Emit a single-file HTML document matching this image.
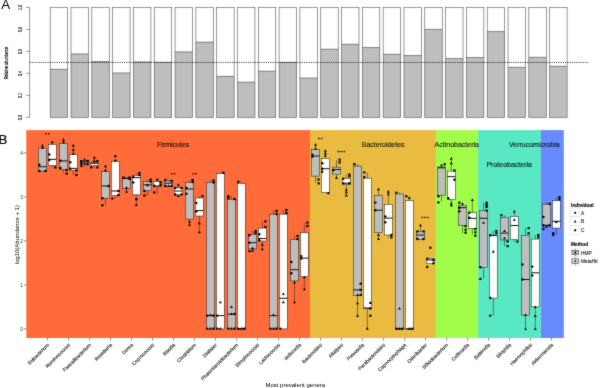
<!DOCTYPE html>
<html><head><meta charset="utf-8"><title>Figure</title>
<style>
html,body{margin:0;padding:0;background:#fff;}
body{width:600px;height:388px;overflow:hidden;}
svg{display:block;font-family:"Liberation Sans", sans-serif;}
</style></head>
<body>
<svg width="600" height="388" viewBox="0 0 600 388">
<defs><filter id="bl" filterUnits="userSpaceOnUse" x="-6" y="-6" width="612" height="400" color-interpolation-filters="sRGB"><feConvolveMatrix order="3" kernelMatrix="0.5 1 0.5 1 12 1 0.5 1 0.5" edgeMode="duplicate" preserveAlpha="true"/></filter></defs>
<g filter="url(#bl)">
<rect x="-8" y="-8" width="616" height="404" fill="#fff"/>
<text x="1.2" y="9.45" font-size="13.3" fill="#000">A</text>
<line x1="29.6" y1="7.4" x2="29.6" y2="117.4" stroke="#555" stroke-width="0.6"/>
<line x1="26" y1="117.40" x2="29.6" y2="117.40" stroke="#555" stroke-width="0.6"/>
<text transform="translate(21.7,117.40) rotate(-90) scale(0.6,1)" text-anchor="middle" font-size="6" fill="#222" stroke="#222" stroke-width="0.15">0.0</text>
<line x1="26" y1="95.40" x2="29.6" y2="95.40" stroke="#555" stroke-width="0.6"/>
<text transform="translate(21.7,95.40) rotate(-90) scale(0.6,1)" text-anchor="middle" font-size="6" fill="#222" stroke="#222" stroke-width="0.15">0.2</text>
<line x1="26" y1="73.40" x2="29.6" y2="73.40" stroke="#555" stroke-width="0.6"/>
<text transform="translate(21.7,73.40) rotate(-90) scale(0.6,1)" text-anchor="middle" font-size="6" fill="#222" stroke="#222" stroke-width="0.15">0.4</text>
<line x1="26" y1="51.40" x2="29.6" y2="51.40" stroke="#555" stroke-width="0.6"/>
<text transform="translate(21.7,51.40) rotate(-90) scale(0.6,1)" text-anchor="middle" font-size="6" fill="#222" stroke="#222" stroke-width="0.15">0.6</text>
<line x1="26" y1="29.40" x2="29.6" y2="29.40" stroke="#555" stroke-width="0.6"/>
<text transform="translate(21.7,29.40) rotate(-90) scale(0.6,1)" text-anchor="middle" font-size="6" fill="#222" stroke="#222" stroke-width="0.15">0.8</text>
<line x1="26" y1="7.40" x2="29.6" y2="7.40" stroke="#555" stroke-width="0.6"/>
<text transform="translate(21.7,7.40) rotate(-90) scale(0.6,1)" text-anchor="middle" font-size="6" fill="#222" stroke="#222" stroke-width="0.15">1.0</text>
<text transform="translate(7.7,63.0) rotate(-90) scale(0.70,1)" text-anchor="middle" font-size="5.2" fill="#000" stroke="#000" stroke-width="0.18">Relative abundance</text>
<rect x="50.20" y="7.4" width="17.45" height="110.00" fill="#fff"/>
<rect x="50.20" y="69.33" width="17.45" height="48.07" fill="#bebebe"/>
<line x1="50.20" y1="69.33" x2="67.65" y2="69.33" stroke="#444" stroke-width="0.6"/>
<rect x="50.20" y="7.4" width="17.45" height="110.00" fill="none" stroke="#555" stroke-width="0.6"/>
<rect x="71.01" y="7.4" width="17.45" height="110.00" fill="#fff"/>
<rect x="71.01" y="53.93" width="17.45" height="63.47" fill="#bebebe"/>
<line x1="71.01" y1="53.93" x2="88.46" y2="53.93" stroke="#444" stroke-width="0.6"/>
<rect x="71.01" y="7.4" width="17.45" height="110.00" fill="none" stroke="#555" stroke-width="0.6"/>
<rect x="91.82" y="7.4" width="17.45" height="110.00" fill="#fff"/>
<rect x="91.82" y="61.63" width="17.45" height="55.77" fill="#bebebe"/>
<line x1="91.82" y1="61.63" x2="109.27" y2="61.63" stroke="#444" stroke-width="0.6"/>
<rect x="91.82" y="7.4" width="17.45" height="110.00" fill="none" stroke="#555" stroke-width="0.6"/>
<rect x="112.63" y="7.4" width="17.45" height="110.00" fill="#fff"/>
<rect x="112.63" y="72.96" width="17.45" height="44.44" fill="#bebebe"/>
<line x1="112.63" y1="72.96" x2="130.08" y2="72.96" stroke="#444" stroke-width="0.6"/>
<rect x="112.63" y="7.4" width="17.45" height="110.00" fill="none" stroke="#555" stroke-width="0.6"/>
<rect x="133.44" y="7.4" width="17.45" height="110.00" fill="#fff"/>
<rect x="133.44" y="61.96" width="17.45" height="55.44" fill="#bebebe"/>
<line x1="133.44" y1="61.96" x2="150.89" y2="61.96" stroke="#444" stroke-width="0.6"/>
<rect x="133.44" y="7.4" width="17.45" height="110.00" fill="none" stroke="#555" stroke-width="0.6"/>
<rect x="154.25" y="7.4" width="17.45" height="110.00" fill="#fff"/>
<rect x="154.25" y="62.40" width="17.45" height="55.00" fill="#bebebe"/>
<line x1="154.25" y1="62.40" x2="171.70" y2="62.40" stroke="#444" stroke-width="0.6"/>
<rect x="154.25" y="7.4" width="17.45" height="110.00" fill="none" stroke="#555" stroke-width="0.6"/>
<rect x="175.06" y="7.4" width="17.45" height="110.00" fill="#fff"/>
<rect x="175.06" y="51.95" width="17.45" height="65.45" fill="#bebebe"/>
<line x1="175.06" y1="51.95" x2="192.51" y2="51.95" stroke="#444" stroke-width="0.6"/>
<rect x="175.06" y="7.4" width="17.45" height="110.00" fill="none" stroke="#555" stroke-width="0.6"/>
<rect x="195.87" y="7.4" width="17.45" height="110.00" fill="#fff"/>
<rect x="195.87" y="42.16" width="17.45" height="75.24" fill="#bebebe"/>
<line x1="195.87" y1="42.16" x2="213.32" y2="42.16" stroke="#444" stroke-width="0.6"/>
<rect x="195.87" y="7.4" width="17.45" height="110.00" fill="none" stroke="#555" stroke-width="0.6"/>
<rect x="216.68" y="7.4" width="17.45" height="110.00" fill="#fff"/>
<rect x="216.68" y="76.37" width="17.45" height="41.03" fill="#bebebe"/>
<line x1="216.68" y1="76.37" x2="234.13" y2="76.37" stroke="#444" stroke-width="0.6"/>
<rect x="216.68" y="7.4" width="17.45" height="110.00" fill="none" stroke="#555" stroke-width="0.6"/>
<rect x="237.49" y="7.4" width="17.45" height="110.00" fill="#fff"/>
<rect x="237.49" y="82.20" width="17.45" height="35.20" fill="#bebebe"/>
<line x1="237.49" y1="82.20" x2="254.94" y2="82.20" stroke="#444" stroke-width="0.6"/>
<rect x="237.49" y="7.4" width="17.45" height="110.00" fill="none" stroke="#555" stroke-width="0.6"/>
<rect x="258.30" y="7.4" width="17.45" height="110.00" fill="#fff"/>
<rect x="258.30" y="71.20" width="17.45" height="46.20" fill="#bebebe"/>
<line x1="258.30" y1="71.20" x2="275.75" y2="71.20" stroke="#444" stroke-width="0.6"/>
<rect x="258.30" y="7.4" width="17.45" height="110.00" fill="none" stroke="#555" stroke-width="0.6"/>
<rect x="279.11" y="7.4" width="17.45" height="110.00" fill="#fff"/>
<rect x="279.11" y="62.40" width="17.45" height="55.00" fill="#bebebe"/>
<line x1="279.11" y1="62.40" x2="296.56" y2="62.40" stroke="#444" stroke-width="0.6"/>
<rect x="279.11" y="7.4" width="17.45" height="110.00" fill="none" stroke="#555" stroke-width="0.6"/>
<rect x="299.92" y="7.4" width="17.45" height="110.00" fill="#fff"/>
<rect x="299.92" y="78.02" width="17.45" height="39.38" fill="#bebebe"/>
<line x1="299.92" y1="78.02" x2="317.37" y2="78.02" stroke="#444" stroke-width="0.6"/>
<rect x="299.92" y="7.4" width="17.45" height="110.00" fill="none" stroke="#555" stroke-width="0.6"/>
<rect x="320.73" y="7.4" width="17.45" height="110.00" fill="#fff"/>
<rect x="320.73" y="49.20" width="17.45" height="68.20" fill="#bebebe"/>
<line x1="320.73" y1="49.20" x2="338.18" y2="49.20" stroke="#444" stroke-width="0.6"/>
<rect x="320.73" y="7.4" width="17.45" height="110.00" fill="none" stroke="#555" stroke-width="0.6"/>
<rect x="341.54" y="7.4" width="17.45" height="110.00" fill="#fff"/>
<rect x="341.54" y="44.25" width="17.45" height="73.15" fill="#bebebe"/>
<line x1="341.54" y1="44.25" x2="358.99" y2="44.25" stroke="#444" stroke-width="0.6"/>
<rect x="341.54" y="7.4" width="17.45" height="110.00" fill="none" stroke="#555" stroke-width="0.6"/>
<rect x="362.35" y="7.4" width="17.45" height="110.00" fill="#fff"/>
<rect x="362.35" y="47.55" width="17.45" height="69.85" fill="#bebebe"/>
<line x1="362.35" y1="47.55" x2="379.80" y2="47.55" stroke="#444" stroke-width="0.6"/>
<rect x="362.35" y="7.4" width="17.45" height="110.00" fill="none" stroke="#555" stroke-width="0.6"/>
<rect x="383.16" y="7.4" width="17.45" height="110.00" fill="#fff"/>
<rect x="383.16" y="54.26" width="17.45" height="63.14" fill="#bebebe"/>
<line x1="383.16" y1="54.26" x2="400.61" y2="54.26" stroke="#444" stroke-width="0.6"/>
<rect x="383.16" y="7.4" width="17.45" height="110.00" fill="none" stroke="#555" stroke-width="0.6"/>
<rect x="403.97" y="7.4" width="17.45" height="110.00" fill="#fff"/>
<rect x="403.97" y="55.58" width="17.45" height="61.82" fill="#bebebe"/>
<line x1="403.97" y1="55.58" x2="421.42" y2="55.58" stroke="#444" stroke-width="0.6"/>
<rect x="403.97" y="7.4" width="17.45" height="110.00" fill="none" stroke="#555" stroke-width="0.6"/>
<rect x="424.78" y="7.4" width="17.45" height="110.00" fill="#fff"/>
<rect x="424.78" y="29.40" width="17.45" height="88.00" fill="#bebebe"/>
<line x1="424.78" y1="29.40" x2="442.23" y2="29.40" stroke="#444" stroke-width="0.6"/>
<rect x="424.78" y="7.4" width="17.45" height="110.00" fill="none" stroke="#555" stroke-width="0.6"/>
<rect x="445.59" y="7.4" width="17.45" height="110.00" fill="#fff"/>
<rect x="445.59" y="58.55" width="17.45" height="58.85" fill="#bebebe"/>
<line x1="445.59" y1="58.55" x2="463.04" y2="58.55" stroke="#444" stroke-width="0.6"/>
<rect x="445.59" y="7.4" width="17.45" height="110.00" fill="none" stroke="#555" stroke-width="0.6"/>
<rect x="466.40" y="7.4" width="17.45" height="110.00" fill="#fff"/>
<rect x="466.40" y="57.56" width="17.45" height="59.84" fill="#bebebe"/>
<line x1="466.40" y1="57.56" x2="483.85" y2="57.56" stroke="#444" stroke-width="0.6"/>
<rect x="466.40" y="7.4" width="17.45" height="110.00" fill="none" stroke="#555" stroke-width="0.6"/>
<rect x="487.21" y="7.4" width="17.45" height="110.00" fill="#fff"/>
<rect x="487.21" y="31.60" width="17.45" height="85.80" fill="#bebebe"/>
<line x1="487.21" y1="31.60" x2="504.66" y2="31.60" stroke="#444" stroke-width="0.6"/>
<rect x="487.21" y="7.4" width="17.45" height="110.00" fill="none" stroke="#555" stroke-width="0.6"/>
<rect x="508.02" y="7.4" width="17.45" height="110.00" fill="#fff"/>
<rect x="508.02" y="67.35" width="17.45" height="50.05" fill="#bebebe"/>
<line x1="508.02" y1="67.35" x2="525.47" y2="67.35" stroke="#444" stroke-width="0.6"/>
<rect x="508.02" y="7.4" width="17.45" height="110.00" fill="none" stroke="#555" stroke-width="0.6"/>
<rect x="528.83" y="7.4" width="17.45" height="110.00" fill="#fff"/>
<rect x="528.83" y="57.34" width="17.45" height="60.06" fill="#bebebe"/>
<line x1="528.83" y1="57.34" x2="546.28" y2="57.34" stroke="#444" stroke-width="0.6"/>
<rect x="528.83" y="7.4" width="17.45" height="110.00" fill="none" stroke="#555" stroke-width="0.6"/>
<rect x="549.64" y="7.4" width="17.45" height="110.00" fill="#fff"/>
<rect x="549.64" y="66.25" width="17.45" height="51.15" fill="#bebebe"/>
<line x1="549.64" y1="66.25" x2="567.09" y2="66.25" stroke="#444" stroke-width="0.6"/>
<rect x="549.64" y="7.4" width="17.45" height="110.00" fill="none" stroke="#555" stroke-width="0.6"/>
<line x1="29.6" y1="62.45" x2="588.3" y2="62.45" stroke="#000" stroke-width="0.8" stroke-dasharray="1.1,1.15"/>
<text x="-1.6" y="143.9" font-size="13.3" fill="#000" stroke="#000" stroke-width="0.2">B</text>
<rect x="26.3" y="130.1" width="283.70" height="207.90" fill="#ff6c39"/>
<rect x="310.0" y="130.1" width="125.90" height="207.90" fill="#e9bc41"/>
<rect x="435.9" y="130.1" width="42.20" height="207.90" fill="#a2fd4a"/>
<rect x="478.1" y="130.1" width="62.70" height="207.90" fill="#58e8c3"/>
<rect x="540.8" y="130.1" width="23.00" height="207.90" fill="#678aff"/>
<text x="173.2" y="146.8" text-anchor="middle" font-size="7" fill="rgba(0,0,0,0.88)" stroke="rgba(0,0,0,0.88)" stroke-width="0.12">Firmicutes</text>
<text x="383.2" y="146.9" text-anchor="middle" font-size="7" fill="rgba(0,0,0,0.88)" stroke="rgba(0,0,0,0.88)" stroke-width="0.12">Bacteroidetes</text>
<text x="456.8" y="146.8" text-anchor="middle" font-size="7" fill="rgba(0,0,0,0.88)" stroke="rgba(0,0,0,0.88)" stroke-width="0.12">Actinobacteria</text>
<text x="534.3" y="147.0" text-anchor="middle" font-size="7" fill="rgba(0,0,0,0.88)" stroke="rgba(0,0,0,0.88)" stroke-width="0.12">Verrucomicrobia</text>
<text x="509.2" y="166.5" text-anchor="middle" font-size="7" fill="rgba(0,0,0,0.88)" stroke="rgba(0,0,0,0.88)" stroke-width="0.12">Proteobacteria</text>
<line x1="23.8" y1="328.90" x2="26.3" y2="328.90" stroke="#333" stroke-width="0.6"/>
<text x="23.0" y="330.60" text-anchor="end" font-size="4.8" fill="#333">0</text>
<line x1="23.8" y1="284.90" x2="26.3" y2="284.90" stroke="#333" stroke-width="0.6"/>
<text x="23.0" y="286.60" text-anchor="end" font-size="4.8" fill="#333">1</text>
<line x1="23.8" y1="240.90" x2="26.3" y2="240.90" stroke="#333" stroke-width="0.6"/>
<text x="23.0" y="242.60" text-anchor="end" font-size="4.8" fill="#333">2</text>
<line x1="23.8" y1="196.90" x2="26.3" y2="196.90" stroke="#333" stroke-width="0.6"/>
<text x="23.0" y="198.60" text-anchor="end" font-size="4.8" fill="#333">3</text>
<line x1="23.8" y1="152.90" x2="26.3" y2="152.90" stroke="#333" stroke-width="0.6"/>
<text x="23.0" y="154.60" text-anchor="end" font-size="4.8" fill="#333">4</text>
<text transform="translate(18.5,234.7) rotate(-90)" text-anchor="middle" font-size="6" fill="#000">log10(Abundance + 1)</text>
<line x1="47.60" y1="338.0" x2="47.60" y2="340.5" stroke="#333" stroke-width="0.6"/>
<text transform="translate(49.40,345.3) rotate(-45)" text-anchor="end" font-size="4.95" fill="#1a1a1a" stroke="#1a1a1a" stroke-width="0.12">Eubacterium</text>
<line x1="68.60" y1="338.0" x2="68.60" y2="340.5" stroke="#333" stroke-width="0.6"/>
<text transform="translate(70.40,345.3) rotate(-45)" text-anchor="end" font-size="4.95" fill="#1a1a1a" stroke="#1a1a1a" stroke-width="0.12">Ruminococcus</text>
<line x1="89.60" y1="338.0" x2="89.60" y2="340.5" stroke="#333" stroke-width="0.6"/>
<text transform="translate(91.40,345.3) rotate(-45)" text-anchor="end" font-size="4.95" fill="#1a1a1a" stroke="#1a1a1a" stroke-width="0.12">Faecalibacterium</text>
<line x1="110.60" y1="338.0" x2="110.60" y2="340.5" stroke="#333" stroke-width="0.6"/>
<text transform="translate(112.40,345.3) rotate(-45)" text-anchor="end" font-size="4.95" fill="#1a1a1a" stroke="#1a1a1a" stroke-width="0.12">Roseburia</text>
<line x1="131.60" y1="338.0" x2="131.60" y2="340.5" stroke="#333" stroke-width="0.6"/>
<text transform="translate(133.40,345.3) rotate(-45)" text-anchor="end" font-size="4.95" fill="#1a1a1a" stroke="#1a1a1a" stroke-width="0.12">Dorea</text>
<line x1="152.60" y1="338.0" x2="152.60" y2="340.5" stroke="#333" stroke-width="0.6"/>
<text transform="translate(154.40,345.3) rotate(-45)" text-anchor="end" font-size="4.95" fill="#1a1a1a" stroke="#1a1a1a" stroke-width="0.12">Coprococcus</text>
<line x1="173.60" y1="338.0" x2="173.60" y2="340.5" stroke="#333" stroke-width="0.6"/>
<text transform="translate(175.40,345.3) rotate(-45)" text-anchor="end" font-size="4.95" fill="#1a1a1a" stroke="#1a1a1a" stroke-width="0.12">Blautia</text>
<line x1="194.60" y1="338.0" x2="194.60" y2="340.5" stroke="#333" stroke-width="0.6"/>
<text transform="translate(196.40,345.3) rotate(-45)" text-anchor="end" font-size="4.95" fill="#1a1a1a" stroke="#1a1a1a" stroke-width="0.12">Clostridium</text>
<line x1="215.60" y1="338.0" x2="215.60" y2="340.5" stroke="#333" stroke-width="0.6"/>
<text transform="translate(217.40,345.3) rotate(-45)" text-anchor="end" font-size="4.95" fill="#1a1a1a" stroke="#1a1a1a" stroke-width="0.12">Dialister</text>
<line x1="236.60" y1="338.0" x2="236.60" y2="340.5" stroke="#333" stroke-width="0.6"/>
<text transform="translate(238.40,345.3) rotate(-45)" text-anchor="end" font-size="4.95" fill="#1a1a1a" stroke="#1a1a1a" stroke-width="0.12">Phascolarctobacterium</text>
<line x1="257.60" y1="338.0" x2="257.60" y2="340.5" stroke="#333" stroke-width="0.6"/>
<text transform="translate(259.40,345.3) rotate(-45)" text-anchor="end" font-size="4.95" fill="#1a1a1a" stroke="#1a1a1a" stroke-width="0.12">Streptococcus</text>
<line x1="278.60" y1="338.0" x2="278.60" y2="340.5" stroke="#333" stroke-width="0.6"/>
<text transform="translate(280.40,345.3) rotate(-45)" text-anchor="end" font-size="4.95" fill="#1a1a1a" stroke="#1a1a1a" stroke-width="0.12">Lactococcus</text>
<line x1="299.60" y1="338.0" x2="299.60" y2="340.5" stroke="#333" stroke-width="0.6"/>
<text transform="translate(301.40,345.3) rotate(-45)" text-anchor="end" font-size="4.95" fill="#1a1a1a" stroke="#1a1a1a" stroke-width="0.12">Veillonella</text>
<line x1="320.60" y1="338.0" x2="320.60" y2="340.5" stroke="#333" stroke-width="0.6"/>
<text transform="translate(322.40,345.3) rotate(-45)" text-anchor="end" font-size="4.95" fill="#1a1a1a" stroke="#1a1a1a" stroke-width="0.12">Bacteroides</text>
<line x1="341.60" y1="338.0" x2="341.60" y2="340.5" stroke="#333" stroke-width="0.6"/>
<text transform="translate(343.40,345.3) rotate(-45)" text-anchor="end" font-size="4.95" fill="#1a1a1a" stroke="#1a1a1a" stroke-width="0.12">Alistipes</text>
<line x1="362.60" y1="338.0" x2="362.60" y2="340.5" stroke="#333" stroke-width="0.6"/>
<text transform="translate(364.40,345.3) rotate(-45)" text-anchor="end" font-size="4.95" fill="#1a1a1a" stroke="#1a1a1a" stroke-width="0.12">Prevotella</text>
<line x1="383.60" y1="338.0" x2="383.60" y2="340.5" stroke="#333" stroke-width="0.6"/>
<text transform="translate(385.40,345.3) rotate(-45)" text-anchor="end" font-size="4.95" fill="#1a1a1a" stroke="#1a1a1a" stroke-width="0.12">Parabacteroides</text>
<line x1="404.60" y1="338.0" x2="404.60" y2="340.5" stroke="#333" stroke-width="0.6"/>
<text transform="translate(406.40,345.3) rotate(-45)" text-anchor="end" font-size="4.95" fill="#1a1a1a" stroke="#1a1a1a" stroke-width="0.12">Capnocytophaga</text>
<line x1="425.60" y1="338.0" x2="425.60" y2="340.5" stroke="#333" stroke-width="0.6"/>
<text transform="translate(427.40,345.3) rotate(-45)" text-anchor="end" font-size="4.95" fill="#1a1a1a" stroke="#1a1a1a" stroke-width="0.12">Odoribacter</text>
<line x1="446.60" y1="338.0" x2="446.60" y2="340.5" stroke="#333" stroke-width="0.6"/>
<text transform="translate(448.40,345.3) rotate(-45)" text-anchor="end" font-size="4.95" fill="#1a1a1a" stroke="#1a1a1a" stroke-width="0.12">Bifidobacterium</text>
<line x1="467.60" y1="338.0" x2="467.60" y2="340.5" stroke="#333" stroke-width="0.6"/>
<text transform="translate(469.40,345.3) rotate(-45)" text-anchor="end" font-size="4.95" fill="#1a1a1a" stroke="#1a1a1a" stroke-width="0.12">Collinsella</text>
<line x1="488.60" y1="338.0" x2="488.60" y2="340.5" stroke="#333" stroke-width="0.6"/>
<text transform="translate(490.40,345.3) rotate(-45)" text-anchor="end" font-size="4.95" fill="#1a1a1a" stroke="#1a1a1a" stroke-width="0.12">Sutterella</text>
<line x1="509.60" y1="338.0" x2="509.60" y2="340.5" stroke="#333" stroke-width="0.6"/>
<text transform="translate(511.40,345.3) rotate(-45)" text-anchor="end" font-size="4.95" fill="#1a1a1a" stroke="#1a1a1a" stroke-width="0.12">Bilophila</text>
<line x1="530.60" y1="338.0" x2="530.60" y2="340.5" stroke="#333" stroke-width="0.6"/>
<text transform="translate(532.40,345.3) rotate(-45)" text-anchor="end" font-size="4.95" fill="#1a1a1a" stroke="#1a1a1a" stroke-width="0.12">Haemophilus</text>
<line x1="551.60" y1="338.0" x2="551.60" y2="340.5" stroke="#333" stroke-width="0.6"/>
<text transform="translate(553.40,345.3) rotate(-45)" text-anchor="end" font-size="4.95" fill="#1a1a1a" stroke="#1a1a1a" stroke-width="0.12">Akkermansia</text>
<text x="295.3" y="387.0" text-anchor="middle" font-size="6" fill="#000">Most prevalent genera</text>
<line x1="42.50" y1="145.50" x2="42.50" y2="148.00" stroke="#2a2a2a" stroke-width="0.55"/><rect x="38.50" y="148.00" width="8.00" height="23.00" fill="#bebebe" stroke="#2a2a2a" stroke-width="0.55"/><line x1="38.50" y1="166.70" x2="46.50" y2="166.70" stroke="#111" stroke-width="1.0"/><path d="M42.50,143.90L43.95,146.45L41.05,146.45Z" fill="#000"/><path d="M42.50,146.40L43.95,148.95L41.05,148.95Z" fill="#000"/><circle cx="39.40" cy="164.80" r="1.20" fill="#000"/><circle cx="39.40" cy="171.00" r="1.20" fill="#000"/><rect x="44.50" y="169.90" width="2.20" height="2.20" fill="#000"/>
<line x1="52.33" y1="142.20" x2="52.33" y2="144.40" stroke="#2a2a2a" stroke-width="0.55"/><line x1="52.33" y1="165.40" x2="52.33" y2="167.40" stroke="#2a2a2a" stroke-width="0.55"/><rect x="48.35" y="144.40" width="7.95" height="21.00" fill="#ffffff" stroke="#2a2a2a" stroke-width="0.55"/><line x1="48.35" y1="159.40" x2="56.30" y2="159.40" stroke="#111" stroke-width="1.0"/><path d="M52.33,140.60L53.78,143.15L50.88,143.15Z" fill="#000"/><circle cx="49.25" cy="154.50" r="1.20" fill="#000"/><circle cx="49.25" cy="160.00" r="1.20" fill="#000"/><rect x="54.30" y="166.30" width="2.20" height="2.20" fill="#000"/>
<line x1="63.50" y1="139.70" x2="63.50" y2="143.50" stroke="#2a2a2a" stroke-width="0.55"/><line x1="63.50" y1="169.70" x2="63.50" y2="172.50" stroke="#2a2a2a" stroke-width="0.55"/><rect x="59.50" y="143.50" width="8.00" height="26.20" fill="#bebebe" stroke="#2a2a2a" stroke-width="0.55"/><line x1="59.50" y1="160.90" x2="67.50" y2="160.90" stroke="#111" stroke-width="1.0"/><path d="M63.50,138.10L64.95,140.65L62.05,140.65Z" fill="#000"/><path d="M63.50,140.60L64.95,143.15L62.05,143.15Z" fill="#000"/><circle cx="60.40" cy="160.70" r="1.20" fill="#000"/><circle cx="60.40" cy="168.00" r="1.20" fill="#000"/><rect x="65.50" y="168.90" width="2.20" height="2.20" fill="#000"/><rect x="65.50" y="172.50" width="2.20" height="2.20" fill="#000"/>
<line x1="73.32" y1="145.50" x2="73.32" y2="154.50" stroke="#2a2a2a" stroke-width="0.55"/><line x1="73.32" y1="170.20" x2="73.32" y2="175.00" stroke="#2a2a2a" stroke-width="0.55"/><rect x="69.35" y="154.50" width="7.95" height="15.70" fill="#ffffff" stroke="#2a2a2a" stroke-width="0.55"/><line x1="69.35" y1="168.40" x2="77.30" y2="168.40" stroke="#111" stroke-width="1.0"/><path d="M73.32,143.90L74.77,146.45L71.87,146.45Z" fill="#000"/><path d="M73.32,148.40L74.77,150.95L71.87,150.95Z" fill="#000"/><path d="M73.32,152.20L74.77,154.75L71.87,154.75Z" fill="#000"/><circle cx="70.25" cy="162.20" r="1.20" fill="#000"/><circle cx="70.25" cy="168.70" r="1.20" fill="#000"/><rect x="75.30" y="169.50" width="2.20" height="2.20" fill="#000"/><rect x="75.30" y="173.90" width="2.20" height="2.20" fill="#000"/>
<line x1="84.50" y1="158.50" x2="84.50" y2="160.30" stroke="#2a2a2a" stroke-width="0.55"/><line x1="84.50" y1="164.40" x2="84.50" y2="166.50" stroke="#2a2a2a" stroke-width="0.55"/><rect x="80.50" y="160.30" width="8.00" height="4.10" fill="#bebebe" stroke="#2a2a2a" stroke-width="0.55"/><line x1="80.50" y1="162.00" x2="88.50" y2="162.00" stroke="#111" stroke-width="1.0"/><circle cx="81.40" cy="161.20" r="1.20" fill="#000"/><circle cx="81.40" cy="166.10" r="1.20" fill="#000"/><path d="M84.50,158.30L85.95,160.85L83.05,160.85Z" fill="#000"/><path d="M84.50,161.70L85.95,164.25L83.05,164.25Z" fill="#000"/><rect x="86.50" y="159.90" width="2.20" height="2.20" fill="#000"/><rect x="86.50" y="163.10" width="2.20" height="2.20" fill="#000"/><circle cx="81.40" cy="163.50" r="1.20" fill="#000"/>
<line x1="94.32" y1="157.70" x2="94.32" y2="162.90" stroke="#2a2a2a" stroke-width="0.55"/><line x1="94.32" y1="165.50" x2="94.32" y2="167.80" stroke="#2a2a2a" stroke-width="0.55"/><rect x="90.35" y="162.90" width="7.95" height="2.60" fill="#ffffff" stroke="#2a2a2a" stroke-width="0.55"/><line x1="90.35" y1="163.30" x2="98.30" y2="163.30" stroke="#111" stroke-width="1.0"/><path d="M94.32,156.10L95.77,158.65L92.87,158.65Z" fill="#000"/><path d="M94.32,159.40L95.77,161.95L92.87,161.95Z" fill="#000"/><rect x="96.30" y="159.90" width="2.20" height="2.20" fill="#000"/><circle cx="91.25" cy="167.40" r="1.20" fill="#000"/><rect x="96.30" y="166.30" width="2.20" height="2.20" fill="#000"/>
<line x1="105.50" y1="166.20" x2="105.50" y2="171.40" stroke="#2a2a2a" stroke-width="0.55"/><line x1="105.50" y1="198.20" x2="105.50" y2="205.30" stroke="#2a2a2a" stroke-width="0.55"/><rect x="101.50" y="171.40" width="8.00" height="26.80" fill="#bebebe" stroke="#2a2a2a" stroke-width="0.55"/><line x1="101.50" y1="186.00" x2="109.50" y2="186.00" stroke="#111" stroke-width="1.0"/><path d="M105.50,164.60L106.95,167.15L104.05,167.15Z" fill="#000"/><path d="M105.50,168.90L106.95,171.45L104.05,171.45Z" fill="#000"/><rect x="107.50" y="184.90" width="2.20" height="2.20" fill="#000"/><circle cx="102.40" cy="198.20" r="1.20" fill="#000"/><circle cx="102.40" cy="205.30" r="1.20" fill="#000"/>
<line x1="115.32" y1="195.60" x2="115.32" y2="198.60" stroke="#2a2a2a" stroke-width="0.55"/><rect x="111.35" y="161.40" width="7.95" height="34.20" fill="#ffffff" stroke="#2a2a2a" stroke-width="0.55"/><line x1="111.35" y1="191.00" x2="119.30" y2="191.00" stroke="#111" stroke-width="1.0"/><circle cx="115.32" cy="156.20" r="1.20" fill="#000"/><circle cx="115.32" cy="160.60" r="1.20" fill="#000"/><rect x="117.30" y="189.90" width="2.20" height="2.20" fill="#000"/><rect x="117.30" y="193.90" width="2.20" height="2.20" fill="#000"/><circle cx="112.25" cy="198.60" r="1.20" fill="#000"/>
<line x1="126.50" y1="188.20" x2="126.50" y2="192.00" stroke="#2a2a2a" stroke-width="0.55"/><rect x="122.50" y="177.80" width="8.00" height="10.40" fill="#bebebe" stroke="#2a2a2a" stroke-width="0.55"/><line x1="122.50" y1="178.60" x2="130.50" y2="178.60" stroke="#111" stroke-width="1.0"/><circle cx="123.40" cy="177.50" r="1.20" fill="#000"/><rect x="128.50" y="176.40" width="2.20" height="2.20" fill="#000"/><rect x="128.50" y="177.90" width="2.20" height="2.20" fill="#000"/><path d="M126.50,186.20L127.95,188.75L125.05,188.75Z" fill="#000"/><path d="M126.50,190.10L127.95,192.65L125.05,192.65Z" fill="#000"/>
<line x1="136.32" y1="172.90" x2="136.32" y2="175.50" stroke="#2a2a2a" stroke-width="0.55"/><line x1="136.32" y1="194.80" x2="136.32" y2="205.00" stroke="#2a2a2a" stroke-width="0.55"/><rect x="132.35" y="175.50" width="7.95" height="19.30" fill="#ffffff" stroke="#2a2a2a" stroke-width="0.55"/><line x1="132.35" y1="177.60" x2="140.30" y2="177.60" stroke="#111" stroke-width="1.0"/><rect x="138.30" y="171.80" width="2.20" height="2.20" fill="#000"/><rect x="138.30" y="173.80" width="2.20" height="2.20" fill="#000"/><circle cx="133.25" cy="177.00" r="1.20" fill="#000"/><circle cx="133.25" cy="182.50" r="1.20" fill="#000"/><circle cx="136.32" cy="199.20" r="1.20" fill="#000"/><path d="M136.32,203.40L137.77,205.95L134.88,205.95Z" fill="#000"/>
<line x1="147.50" y1="179.60" x2="147.50" y2="181.70" stroke="#2a2a2a" stroke-width="0.55"/><line x1="147.50" y1="190.50" x2="147.50" y2="195.50" stroke="#2a2a2a" stroke-width="0.55"/><rect x="143.50" y="181.70" width="8.00" height="8.80" fill="#bebebe" stroke="#2a2a2a" stroke-width="0.55"/><line x1="143.50" y1="184.80" x2="151.50" y2="184.80" stroke="#111" stroke-width="1.0"/><path d="M147.50,183.60L148.95,186.15L146.05,186.15Z" fill="#000"/><circle cx="144.40" cy="191.00" r="1.20" fill="#000"/><circle cx="144.40" cy="195.50" r="1.20" fill="#000"/><rect x="149.50" y="178.50" width="2.20" height="2.20" fill="#000"/><rect x="149.50" y="180.40" width="2.20" height="2.20" fill="#000"/>
<line x1="157.32" y1="179.60" x2="157.32" y2="181.70" stroke="#2a2a2a" stroke-width="0.55"/><line x1="157.32" y1="186.80" x2="157.32" y2="194.50" stroke="#2a2a2a" stroke-width="0.55"/><rect x="153.35" y="181.70" width="7.95" height="5.10" fill="#ffffff" stroke="#2a2a2a" stroke-width="0.55"/><line x1="153.35" y1="186.00" x2="161.30" y2="186.00" stroke="#111" stroke-width="1.0"/><circle cx="157.32" cy="179.60" r="1.20" fill="#000"/><rect x="159.30" y="181.30" width="2.20" height="2.20" fill="#000"/><rect x="159.30" y="183.70" width="2.20" height="2.20" fill="#000"/><circle cx="154.25" cy="185.80" r="1.20" fill="#000"/><circle cx="154.25" cy="192.40" r="1.20" fill="#000"/>
<line x1="168.50" y1="180.00" x2="168.50" y2="180.90" stroke="#2a2a2a" stroke-width="0.55"/><rect x="164.50" y="180.90" width="8.00" height="5.40" fill="#bebebe" stroke="#2a2a2a" stroke-width="0.55"/><line x1="164.50" y1="183.20" x2="172.50" y2="183.20" stroke="#111" stroke-width="1.0"/><circle cx="165.40" cy="180.00" r="1.20" fill="#000"/><rect x="170.50" y="179.90" width="2.20" height="2.20" fill="#000"/><path d="M168.50,184.40L169.95,186.95L167.05,186.95Z" fill="#000"/><rect x="170.50" y="184.90" width="2.20" height="2.20" fill="#000"/><circle cx="165.40" cy="186.00" r="1.20" fill="#000"/>
<line x1="178.32" y1="184.80" x2="178.32" y2="187.90" stroke="#2a2a2a" stroke-width="0.55"/><line x1="178.32" y1="194.80" x2="178.32" y2="196.00" stroke="#2a2a2a" stroke-width="0.55"/><rect x="174.35" y="187.90" width="7.95" height="6.90" fill="#ffffff" stroke="#2a2a2a" stroke-width="0.55"/><line x1="174.35" y1="191.00" x2="182.30" y2="191.00" stroke="#111" stroke-width="1.0"/><path d="M178.32,183.20L179.77,185.75L176.88,185.75Z" fill="#000"/><circle cx="175.25" cy="188.00" r="1.20" fill="#000"/><rect x="180.30" y="186.90" width="2.20" height="2.20" fill="#000"/><circle cx="175.25" cy="194.50" r="1.20" fill="#000"/><rect x="180.30" y="193.40" width="2.20" height="2.20" fill="#000"/><path d="M178.32,194.40L179.77,196.95L176.88,196.95Z" fill="#000"/>
<line x1="189.50" y1="180.00" x2="189.50" y2="182.30" stroke="#2a2a2a" stroke-width="0.55"/><line x1="189.50" y1="219.10" x2="189.50" y2="225.00" stroke="#2a2a2a" stroke-width="0.55"/><rect x="185.50" y="182.30" width="8.00" height="36.80" fill="#bebebe" stroke="#2a2a2a" stroke-width="0.55"/><line x1="185.50" y1="189.00" x2="193.50" y2="189.00" stroke="#111" stroke-width="1.0"/><rect x="191.50" y="178.90" width="2.20" height="2.20" fill="#000"/><rect x="191.50" y="180.90" width="2.20" height="2.20" fill="#000"/><circle cx="186.40" cy="188.00" r="1.20" fill="#000"/><circle cx="186.40" cy="193.80" r="1.20" fill="#000"/><path d="M189.50,220.40L190.95,222.95L188.05,222.95Z" fill="#000"/><path d="M189.50,223.40L190.95,225.95L188.05,225.95Z" fill="#000"/>
<line x1="199.32" y1="196.20" x2="199.32" y2="198.00" stroke="#2a2a2a" stroke-width="0.55"/><line x1="199.32" y1="216.00" x2="199.32" y2="232.30" stroke="#2a2a2a" stroke-width="0.55"/><rect x="195.35" y="198.00" width="7.95" height="18.00" fill="#ffffff" stroke="#2a2a2a" stroke-width="0.55"/><line x1="195.35" y1="210.60" x2="203.30" y2="210.60" stroke="#111" stroke-width="1.0"/><rect x="201.30" y="195.10" width="2.20" height="2.20" fill="#000"/><circle cx="196.25" cy="203.00" r="1.20" fill="#000"/><circle cx="196.25" cy="211.50" r="1.20" fill="#000"/><path d="M199.32,221.60L200.77,224.15L197.88,224.15Z" fill="#000"/><path d="M199.32,230.70L200.77,233.25L197.88,233.25Z" fill="#000"/>
<line x1="210.50" y1="180.50" x2="210.50" y2="182.30" stroke="#2a2a2a" stroke-width="0.55"/><rect x="206.50" y="182.30" width="8.00" height="146.60" fill="#bebebe" stroke="#2a2a2a" stroke-width="0.55"/><line x1="206.50" y1="315.60" x2="214.50" y2="315.60" stroke="#111" stroke-width="1.0"/><rect x="212.50" y="179.40" width="2.20" height="2.20" fill="#000"/><rect x="212.50" y="181.40" width="2.20" height="2.20" fill="#000"/><circle cx="207.40" cy="315.60" r="1.20" fill="#000"/><path d="M210.50,313.40L211.95,315.95L209.05,315.95Z" fill="#000"/><rect x="212.50" y="314.50" width="2.20" height="2.20" fill="#000"/><circle cx="207.40" cy="328.60" r="1.20" fill="#000"/><path d="M210.50,327.00L211.95,329.55L209.05,329.55Z" fill="#000"/><rect x="212.50" y="327.50" width="2.20" height="2.20" fill="#000"/>
<line x1="220.32" y1="172.70" x2="220.32" y2="173.60" stroke="#2a2a2a" stroke-width="0.55"/><rect x="216.35" y="173.60" width="7.95" height="155.30" fill="#ffffff" stroke="#2a2a2a" stroke-width="0.55"/><line x1="216.35" y1="315.60" x2="224.30" y2="315.60" stroke="#111" stroke-width="1.0"/><rect x="222.30" y="171.60" width="2.20" height="2.20" fill="#000"/><path d="M220.32,300.80L221.77,303.35L218.88,303.35Z" fill="#000"/><circle cx="217.25" cy="315.60" r="1.20" fill="#000"/><circle cx="217.25" cy="328.60" r="1.20" fill="#000"/><path d="M220.32,327.00L221.77,329.55L218.88,329.55Z" fill="#000"/>
<line x1="231.50" y1="196.20" x2="231.50" y2="199.40" stroke="#2a2a2a" stroke-width="0.55"/><rect x="227.50" y="199.40" width="8.00" height="129.50" fill="#bebebe" stroke="#2a2a2a" stroke-width="0.55"/><line x1="227.50" y1="314.10" x2="235.50" y2="314.10" stroke="#111" stroke-width="1.0"/><circle cx="228.40" cy="196.20" r="1.20" fill="#000"/><circle cx="228.40" cy="198.00" r="1.20" fill="#000"/><rect x="233.50" y="197.90" width="2.20" height="2.20" fill="#000"/><path d="M231.50,305.40L232.95,307.95L230.05,307.95Z" fill="#000"/><path d="M231.50,312.40L232.95,314.95L230.05,314.95Z" fill="#000"/><rect x="233.50" y="312.90" width="2.20" height="2.20" fill="#000"/><circle cx="228.40" cy="328.60" r="1.20" fill="#000"/><path d="M231.50,327.00L232.95,329.55L230.05,329.55Z" fill="#000"/><rect x="233.50" y="327.50" width="2.20" height="2.20" fill="#000"/>
<line x1="241.32" y1="181.70" x2="241.32" y2="183.50" stroke="#2a2a2a" stroke-width="0.55"/><rect x="237.35" y="183.50" width="7.95" height="145.40" fill="#ffffff" stroke="#2a2a2a" stroke-width="0.55"/><line x1="237.35" y1="328.90" x2="245.30" y2="328.90" stroke="#111" stroke-width="1.0"/><circle cx="238.25" cy="181.70" r="1.20" fill="#000"/><circle cx="238.25" cy="328.60" r="1.20" fill="#000"/><path d="M241.32,327.00L242.77,329.55L239.88,329.55Z" fill="#000"/><rect x="243.30" y="327.50" width="2.20" height="2.20" fill="#000"/>
<line x1="252.50" y1="231.00" x2="252.50" y2="234.30" stroke="#2a2a2a" stroke-width="0.55"/><line x1="252.50" y1="248.90" x2="252.50" y2="251.10" stroke="#2a2a2a" stroke-width="0.55"/><rect x="248.50" y="234.30" width="8.00" height="14.60" fill="#bebebe" stroke="#2a2a2a" stroke-width="0.55"/><line x1="248.50" y1="242.70" x2="256.50" y2="242.70" stroke="#111" stroke-width="1.0"/><rect x="254.50" y="229.90" width="2.20" height="2.20" fill="#000"/><rect x="254.50" y="232.10" width="2.20" height="2.20" fill="#000"/><circle cx="249.40" cy="235.20" r="1.20" fill="#000"/><circle cx="249.40" cy="242.70" r="1.20" fill="#000"/><path d="M252.50,246.60L253.95,249.15L251.05,249.15Z" fill="#000"/><circle cx="249.40" cy="251.10" r="1.20" fill="#000"/><path d="M252.50,249.50L253.95,252.05L251.05,252.05Z" fill="#000"/>
<line x1="262.33" y1="221.40" x2="262.33" y2="228.10" stroke="#2a2a2a" stroke-width="0.55"/><line x1="262.33" y1="241.00" x2="262.33" y2="249.40" stroke="#2a2a2a" stroke-width="0.55"/><rect x="258.35" y="228.10" width="7.95" height="12.90" fill="#ffffff" stroke="#2a2a2a" stroke-width="0.55"/><line x1="258.35" y1="238.50" x2="266.30" y2="238.50" stroke="#111" stroke-width="1.0"/><rect x="264.30" y="220.30" width="2.20" height="2.20" fill="#000"/><rect x="264.30" y="225.70" width="2.20" height="2.20" fill="#000"/><circle cx="259.25" cy="234.30" r="1.20" fill="#000"/><circle cx="259.25" cy="240.20" r="1.20" fill="#000"/><path d="M262.33,243.30L263.78,245.85L260.88,245.85Z" fill="#000"/><path d="M262.33,247.80L263.78,250.35L260.88,250.35Z" fill="#000"/>
<line x1="273.50" y1="210.90" x2="273.50" y2="214.20" stroke="#2a2a2a" stroke-width="0.55"/><rect x="269.50" y="214.20" width="8.00" height="114.70" fill="#bebebe" stroke="#2a2a2a" stroke-width="0.55"/><line x1="269.50" y1="315.70" x2="277.50" y2="315.70" stroke="#111" stroke-width="1.0"/><rect x="275.50" y="209.80" width="2.20" height="2.20" fill="#000"/><rect x="275.50" y="212.90" width="2.20" height="2.20" fill="#000"/><path d="M273.50,313.40L274.95,315.95L272.05,315.95Z" fill="#000"/><circle cx="270.40" cy="328.60" r="1.20" fill="#000"/><path d="M273.50,327.00L274.95,329.55L272.05,329.55Z" fill="#000"/><rect x="275.50" y="327.50" width="2.20" height="2.20" fill="#000"/>
<line x1="283.33" y1="210.00" x2="283.33" y2="214.20" stroke="#2a2a2a" stroke-width="0.55"/><rect x="279.35" y="214.20" width="7.95" height="114.70" fill="#ffffff" stroke="#2a2a2a" stroke-width="0.55"/><line x1="279.35" y1="298.30" x2="287.30" y2="298.30" stroke="#111" stroke-width="1.0"/><rect x="285.30" y="208.90" width="2.20" height="2.20" fill="#000"/><rect x="285.30" y="211.90" width="2.20" height="2.20" fill="#000"/><path d="M283.33,292.50L284.78,295.05L281.88,295.05Z" fill="#000"/><path d="M283.33,300.60L284.78,303.15L281.88,303.15Z" fill="#000"/><circle cx="280.25" cy="328.60" r="1.20" fill="#000"/>
<line x1="294.50" y1="236.00" x2="294.50" y2="239.40" stroke="#2a2a2a" stroke-width="0.55"/><line x1="294.50" y1="280.90" x2="294.50" y2="302.90" stroke="#2a2a2a" stroke-width="0.55"/><rect x="290.50" y="239.40" width="8.00" height="41.50" fill="#bebebe" stroke="#2a2a2a" stroke-width="0.55"/><line x1="290.50" y1="269.70" x2="298.50" y2="269.70" stroke="#111" stroke-width="1.0"/><rect x="296.50" y="234.90" width="2.20" height="2.20" fill="#000"/><rect x="296.50" y="237.90" width="2.20" height="2.20" fill="#000"/><circle cx="291.40" cy="262.00" r="1.20" fill="#000"/><circle cx="291.40" cy="273.20" r="1.20" fill="#000"/><path d="M294.50,280.90L295.95,283.45L293.05,283.45Z" fill="#000"/><path d="M294.50,300.80L295.95,303.35L293.05,303.35Z" fill="#000"/>
<line x1="304.33" y1="222.60" x2="304.33" y2="232.70" stroke="#2a2a2a" stroke-width="0.55"/><line x1="304.33" y1="276.70" x2="304.33" y2="289.40" stroke="#2a2a2a" stroke-width="0.55"/><rect x="300.35" y="232.70" width="7.95" height="44.00" fill="#ffffff" stroke="#2a2a2a" stroke-width="0.55"/><line x1="300.35" y1="258.10" x2="308.30" y2="258.10" stroke="#111" stroke-width="1.0"/><rect x="306.30" y="221.50" width="2.20" height="2.20" fill="#000"/><rect x="306.30" y="224.90" width="2.20" height="2.20" fill="#000"/><circle cx="301.25" cy="256.10" r="1.20" fill="#000"/><circle cx="301.25" cy="258.50" r="1.20" fill="#000"/><path d="M304.33,275.80L305.78,278.35L302.88,278.35Z" fill="#000"/><path d="M304.33,287.80L305.78,290.35L302.88,290.35Z" fill="#000"/>
<line x1="315.50" y1="144.70" x2="315.50" y2="149.30" stroke="#2a2a2a" stroke-width="0.55"/><line x1="315.50" y1="176.10" x2="315.50" y2="182.60" stroke="#2a2a2a" stroke-width="0.55"/><rect x="311.50" y="149.30" width="8.00" height="26.80" fill="#bebebe" stroke="#2a2a2a" stroke-width="0.55"/><line x1="311.50" y1="156.00" x2="319.50" y2="156.00" stroke="#111" stroke-width="1.0"/><path d="M315.50,143.10L316.95,145.65L314.05,145.65Z" fill="#000"/><path d="M315.50,147.00L316.95,149.55L314.05,149.55Z" fill="#000"/><circle cx="312.40" cy="154.80" r="1.20" fill="#000"/><circle cx="312.40" cy="156.60" r="1.20" fill="#000"/><rect x="317.50" y="178.40" width="2.20" height="2.20" fill="#000"/><rect x="317.50" y="182.30" width="2.20" height="2.20" fill="#000"/>
<line x1="325.33" y1="150.90" x2="325.33" y2="158.60" stroke="#2a2a2a" stroke-width="0.55"/><line x1="325.33" y1="192.40" x2="325.33" y2="193.20" stroke="#2a2a2a" stroke-width="0.55"/><rect x="321.35" y="158.60" width="7.95" height="33.80" fill="#ffffff" stroke="#2a2a2a" stroke-width="0.55"/><line x1="321.35" y1="168.70" x2="329.30" y2="168.70" stroke="#111" stroke-width="1.0"/><path d="M325.33,149.30L326.78,151.85L323.88,151.85Z" fill="#000"/><path d="M325.33,151.60L326.78,154.15L323.88,154.15Z" fill="#000"/><path d="M325.33,153.90L326.78,156.45L323.88,156.45Z" fill="#000"/><circle cx="322.25" cy="163.30" r="1.20" fill="#000"/><circle cx="322.25" cy="168.70" r="1.20" fill="#000"/><circle cx="322.25" cy="171.80" r="1.20" fill="#000"/><rect x="327.30" y="192.10" width="2.20" height="2.20" fill="#000"/>
<line x1="336.50" y1="160.20" x2="336.50" y2="167.20" stroke="#2a2a2a" stroke-width="0.55"/><line x1="336.50" y1="174.10" x2="336.50" y2="178.00" stroke="#2a2a2a" stroke-width="0.55"/><rect x="332.50" y="167.20" width="8.00" height="6.90" fill="#bebebe" stroke="#2a2a2a" stroke-width="0.55"/><line x1="332.50" y1="169.50" x2="340.50" y2="169.50" stroke="#111" stroke-width="1.0"/><rect x="338.50" y="158.60" width="2.20" height="2.20" fill="#000"/><rect x="338.50" y="161.40" width="2.20" height="2.20" fill="#000"/><circle cx="333.40" cy="170.20" r="1.20" fill="#000"/><path d="M336.50,176.40L337.95,178.95L335.05,178.95Z" fill="#000"/>
<line x1="346.33" y1="174.60" x2="346.33" y2="178.50" stroke="#2a2a2a" stroke-width="0.55"/><line x1="346.33" y1="184.20" x2="346.33" y2="195.50" stroke="#2a2a2a" stroke-width="0.55"/><rect x="342.35" y="178.50" width="7.95" height="5.70" fill="#ffffff" stroke="#2a2a2a" stroke-width="0.55"/><line x1="342.35" y1="183.20" x2="350.30" y2="183.20" stroke="#111" stroke-width="1.0"/><rect x="348.30" y="173.50" width="2.20" height="2.20" fill="#000"/><rect x="348.30" y="175.30" width="2.20" height="2.20" fill="#000"/><circle cx="343.25" cy="178.80" r="1.20" fill="#000"/><circle cx="343.25" cy="183.40" r="1.20" fill="#000"/><rect x="348.30" y="182.30" width="2.20" height="2.20" fill="#000"/><path d="M346.33,188.20L347.78,190.75L344.88,190.75Z" fill="#000"/><path d="M346.33,190.80L347.78,193.35L344.88,193.35Z" fill="#000"/><path d="M346.33,193.90L347.78,196.45L344.88,196.45Z" fill="#000"/>
<line x1="357.50" y1="164.30" x2="357.50" y2="166.10" stroke="#2a2a2a" stroke-width="0.55"/><line x1="357.50" y1="295.50" x2="357.50" y2="315.70" stroke="#2a2a2a" stroke-width="0.55"/><rect x="353.50" y="166.10" width="8.00" height="129.40" fill="#bebebe" stroke="#2a2a2a" stroke-width="0.55"/><line x1="353.50" y1="289.90" x2="361.50" y2="289.90" stroke="#111" stroke-width="1.0"/><circle cx="354.40" cy="164.30" r="1.20" fill="#000"/><rect x="359.50" y="282.60" width="2.20" height="2.20" fill="#000"/><rect x="359.50" y="288.80" width="2.20" height="2.20" fill="#000"/><path d="M357.50,293.40L358.95,295.95L356.05,295.95Z" fill="#000"/><rect x="359.50" y="293.90" width="2.20" height="2.20" fill="#000"/><path d="M357.50,301.70L358.95,304.25L356.05,304.25Z" fill="#000"/><path d="M357.50,314.10L358.95,316.65L356.05,316.65Z" fill="#000"/>
<line x1="367.33" y1="172.40" x2="367.33" y2="178.20" stroke="#2a2a2a" stroke-width="0.55"/><line x1="367.33" y1="308.50" x2="367.33" y2="328.70" stroke="#2a2a2a" stroke-width="0.55"/><rect x="363.35" y="178.20" width="7.95" height="130.30" fill="#ffffff" stroke="#2a2a2a" stroke-width="0.55"/><line x1="363.35" y1="308.00" x2="371.30" y2="308.00" stroke="#111" stroke-width="1.0"/><circle cx="364.25" cy="172.40" r="1.20" fill="#000"/><circle cx="364.25" cy="177.00" r="1.20" fill="#000"/><rect x="369.30" y="301.80" width="2.20" height="2.20" fill="#000"/><rect x="369.30" y="307.40" width="2.20" height="2.20" fill="#000"/><rect x="369.30" y="314.60" width="2.20" height="2.20" fill="#000"/><path d="M367.33,327.10L368.78,329.65L365.88,329.65Z" fill="#000"/>
<line x1="378.50" y1="189.30" x2="378.50" y2="195.60" stroke="#2a2a2a" stroke-width="0.55"/><line x1="378.50" y1="232.70" x2="378.50" y2="239.00" stroke="#2a2a2a" stroke-width="0.55"/><rect x="374.50" y="195.60" width="8.00" height="37.10" fill="#bebebe" stroke="#2a2a2a" stroke-width="0.55"/><line x1="374.50" y1="210.20" x2="382.50" y2="210.20" stroke="#111" stroke-width="1.0"/><path d="M378.50,187.70L379.95,190.25L377.05,190.25Z" fill="#000"/><circle cx="375.40" cy="202.60" r="1.20" fill="#000"/><circle cx="375.40" cy="210.20" r="1.20" fill="#000"/><path d="M378.50,233.40L379.95,235.95L377.05,235.95Z" fill="#000"/><path d="M378.50,237.40L379.95,239.95L377.05,239.95Z" fill="#000"/>
<line x1="388.33" y1="191.00" x2="388.33" y2="204.40" stroke="#2a2a2a" stroke-width="0.55"/><line x1="388.33" y1="235.00" x2="388.33" y2="237.40" stroke="#2a2a2a" stroke-width="0.55"/><rect x="384.35" y="204.40" width="7.95" height="30.60" fill="#ffffff" stroke="#2a2a2a" stroke-width="0.55"/><line x1="384.35" y1="218.10" x2="392.30" y2="218.10" stroke="#111" stroke-width="1.0"/><path d="M388.33,190.10L389.78,192.65L386.88,192.65Z" fill="#000"/><path d="M388.33,192.80L389.78,195.35L386.88,195.35Z" fill="#000"/><circle cx="385.25" cy="216.50" r="1.20" fill="#000"/><circle cx="385.25" cy="222.30" r="1.20" fill="#000"/><rect x="390.30" y="233.90" width="2.20" height="2.20" fill="#000"/><rect x="390.30" y="236.30" width="2.20" height="2.20" fill="#000"/>
<line x1="399.50" y1="192.60" x2="399.50" y2="194.00" stroke="#2a2a2a" stroke-width="0.55"/><rect x="395.50" y="194.00" width="8.00" height="134.90" fill="#bebebe" stroke="#2a2a2a" stroke-width="0.55"/><line x1="395.50" y1="328.90" x2="403.50" y2="328.90" stroke="#111" stroke-width="1.0"/><circle cx="396.40" cy="192.60" r="1.20" fill="#000"/><path d="M399.50,306.90L400.95,309.45L398.05,309.45Z" fill="#000"/><circle cx="396.40" cy="328.70" r="1.20" fill="#000"/><path d="M399.50,327.10L400.95,329.65L398.05,329.65Z" fill="#000"/><rect x="401.50" y="327.60" width="2.20" height="2.20" fill="#000"/>
<line x1="409.33" y1="196.30" x2="409.33" y2="200.70" stroke="#2a2a2a" stroke-width="0.55"/><rect x="405.35" y="200.70" width="7.95" height="128.20" fill="#ffffff" stroke="#2a2a2a" stroke-width="0.55"/><line x1="405.35" y1="328.90" x2="413.30" y2="328.90" stroke="#111" stroke-width="1.0"/><circle cx="406.25" cy="196.30" r="1.20" fill="#000"/><path d="M409.33,196.40L410.78,198.95L407.88,198.95Z" fill="#000"/><path d="M409.33,327.10L410.78,329.65L407.88,329.65Z" fill="#000"/><rect x="411.30" y="327.60" width="2.20" height="2.20" fill="#000"/>
<line x1="420.50" y1="225.40" x2="420.50" y2="231.40" stroke="#2a2a2a" stroke-width="0.55"/><rect x="416.50" y="231.40" width="8.00" height="7.90" fill="#bebebe" stroke="#2a2a2a" stroke-width="0.55"/><line x1="416.50" y1="235.00" x2="424.50" y2="235.00" stroke="#111" stroke-width="1.0"/><path d="M420.50,223.80L421.95,226.35L419.05,226.35Z" fill="#000"/><circle cx="417.40" cy="231.40" r="1.20" fill="#000"/><rect x="422.50" y="230.30" width="2.20" height="2.20" fill="#000"/><circle cx="417.40" cy="239.00" r="1.20" fill="#000"/><rect x="422.50" y="237.90" width="2.20" height="2.20" fill="#000"/>
<rect x="426.35" y="258.60" width="7.95" height="5.00" fill="#ffffff" stroke="#2a2a2a" stroke-width="0.55"/><line x1="426.35" y1="260.00" x2="434.30" y2="260.00" stroke="#111" stroke-width="1.0"/><circle cx="430.33" cy="247.70" r="1.20" fill="#000"/><circle cx="427.25" cy="258.60" r="1.20" fill="#000"/><circle cx="427.25" cy="267.00" r="1.20" fill="#000"/><rect x="432.30" y="258.90" width="2.20" height="2.20" fill="#000"/><rect x="432.30" y="262.20" width="2.20" height="2.20" fill="#000"/>
<line x1="441.50" y1="165.30" x2="441.50" y2="167.00" stroke="#2a2a2a" stroke-width="0.55"/><line x1="441.50" y1="195.20" x2="441.50" y2="201.40" stroke="#2a2a2a" stroke-width="0.55"/><rect x="437.50" y="167.00" width="8.00" height="28.20" fill="#bebebe" stroke="#2a2a2a" stroke-width="0.55"/><line x1="437.50" y1="167.80" x2="445.50" y2="167.80" stroke="#111" stroke-width="1.0"/><rect x="443.50" y="163.20" width="2.20" height="2.20" fill="#000"/><path d="M441.50,163.70L442.95,166.25L440.05,166.25Z" fill="#000"/><circle cx="438.40" cy="196.20" r="1.20" fill="#000"/><circle cx="438.40" cy="202.40" r="1.20" fill="#000"/>
<line x1="451.33" y1="158.70" x2="451.33" y2="171.10" stroke="#2a2a2a" stroke-width="0.55"/><line x1="451.33" y1="199.30" x2="451.33" y2="205.50" stroke="#2a2a2a" stroke-width="0.55"/><rect x="447.35" y="171.10" width="7.95" height="28.20" fill="#ffffff" stroke="#2a2a2a" stroke-width="0.55"/><line x1="447.35" y1="176.60" x2="455.30" y2="176.60" stroke="#111" stroke-width="1.0"/><path d="M451.33,157.10L452.78,159.65L449.88,159.65Z" fill="#000"/><path d="M451.33,161.60L452.78,164.15L449.88,164.15Z" fill="#000"/><rect x="453.30" y="169.40" width="2.20" height="2.20" fill="#000"/><rect x="453.30" y="178.60" width="2.20" height="2.20" fill="#000"/><circle cx="448.25" cy="198.30" r="1.20" fill="#000"/><path d="M451.33,201.90L452.78,204.45L449.88,204.45Z" fill="#000"/><path d="M451.33,203.90L452.78,206.45L449.88,206.45Z" fill="#000"/>
<line x1="462.50" y1="203.90" x2="462.50" y2="205.30" stroke="#2a2a2a" stroke-width="0.55"/><line x1="462.50" y1="225.50" x2="462.50" y2="233.30" stroke="#2a2a2a" stroke-width="0.55"/><rect x="458.50" y="205.30" width="8.00" height="20.20" fill="#bebebe" stroke="#2a2a2a" stroke-width="0.55"/><line x1="458.50" y1="207.70" x2="466.50" y2="207.70" stroke="#111" stroke-width="1.0"/><path d="M462.50,202.30L463.95,204.85L461.05,204.85Z" fill="#000"/><circle cx="459.40" cy="202.80" r="1.20" fill="#000"/><circle cx="459.40" cy="207.70" r="1.20" fill="#000"/><circle cx="459.40" cy="211.30" r="1.20" fill="#000"/><rect x="464.50" y="225.10" width="2.20" height="2.20" fill="#000"/><rect x="464.50" y="228.60" width="2.20" height="2.20" fill="#000"/><rect x="464.50" y="231.50" width="2.20" height="2.20" fill="#000"/>
<line x1="472.33" y1="200.00" x2="472.33" y2="212.70" stroke="#2a2a2a" stroke-width="0.55"/><line x1="472.33" y1="228.30" x2="472.33" y2="234.70" stroke="#2a2a2a" stroke-width="0.55"/><rect x="468.35" y="212.70" width="7.95" height="15.60" fill="#ffffff" stroke="#2a2a2a" stroke-width="0.55"/><line x1="468.35" y1="218.40" x2="476.30" y2="218.40" stroke="#111" stroke-width="1.0"/><path d="M472.33,198.40L473.78,200.95L470.88,200.95Z" fill="#000"/><circle cx="469.25" cy="217.70" r="1.20" fill="#000"/><circle cx="469.25" cy="212.70" r="1.20" fill="#000"/><rect x="474.30" y="227.90" width="2.20" height="2.20" fill="#000"/><rect x="474.30" y="231.20" width="2.20" height="2.20" fill="#000"/><rect x="474.30" y="234.60" width="2.20" height="2.20" fill="#000"/>
<line x1="483.50" y1="202.80" x2="483.50" y2="210.50" stroke="#2a2a2a" stroke-width="0.55"/><line x1="483.50" y1="267.50" x2="483.50" y2="278.40" stroke="#2a2a2a" stroke-width="0.55"/><rect x="479.50" y="210.50" width="8.00" height="57.00" fill="#bebebe" stroke="#2a2a2a" stroke-width="0.55"/><line x1="479.50" y1="218.30" x2="487.50" y2="218.30" stroke="#111" stroke-width="1.0"/><rect x="485.50" y="201.70" width="2.20" height="2.20" fill="#000"/><rect x="485.50" y="203.80" width="2.20" height="2.20" fill="#000"/><rect x="485.50" y="205.90" width="2.20" height="2.20" fill="#000"/><rect x="485.50" y="209.50" width="2.20" height="2.20" fill="#000"/><path d="M483.50,221.20L484.95,223.75L482.05,223.75Z" fill="#000"/><circle cx="480.40" cy="267.20" r="1.20" fill="#000"/><circle cx="480.40" cy="278.90" r="1.20" fill="#000"/>
<line x1="493.33" y1="231.00" x2="493.33" y2="235.20" stroke="#2a2a2a" stroke-width="0.55"/><line x1="493.33" y1="298.10" x2="493.33" y2="315.60" stroke="#2a2a2a" stroke-width="0.55"/><rect x="489.35" y="235.20" width="7.95" height="62.90" fill="#ffffff" stroke="#2a2a2a" stroke-width="0.55"/><line x1="489.35" y1="235.60" x2="497.30" y2="235.60" stroke="#111" stroke-width="1.0"/><circle cx="490.25" cy="235.20" r="1.20" fill="#000"/><path d="M493.33,250.10L494.78,252.65L491.88,252.65Z" fill="#000"/><rect x="495.30" y="229.90" width="2.20" height="2.20" fill="#000"/><rect x="495.30" y="232.00" width="2.20" height="2.20" fill="#000"/><circle cx="490.25" cy="298.00" r="1.20" fill="#000"/><circle cx="490.25" cy="315.60" r="1.20" fill="#000"/>
<line x1="504.50" y1="215.20" x2="504.50" y2="217.70" stroke="#2a2a2a" stroke-width="0.55"/><line x1="504.50" y1="240.00" x2="504.50" y2="246.10" stroke="#2a2a2a" stroke-width="0.55"/><rect x="500.50" y="217.70" width="8.00" height="22.30" fill="#bebebe" stroke="#2a2a2a" stroke-width="0.55"/><line x1="500.50" y1="233.10" x2="508.50" y2="233.10" stroke="#111" stroke-width="1.0"/><path d="M504.50,229.40L505.95,231.95L503.05,231.95Z" fill="#000"/><path d="M504.50,236.70L505.95,239.25L503.05,239.25Z" fill="#000"/><circle cx="501.40" cy="215.20" r="1.20" fill="#000"/><rect x="506.50" y="240.30" width="2.20" height="2.20" fill="#000"/><rect x="506.50" y="245.00" width="2.20" height="2.20" fill="#000"/>
<line x1="514.33" y1="211.60" x2="514.33" y2="216.40" stroke="#2a2a2a" stroke-width="0.55"/><line x1="514.33" y1="239.50" x2="514.33" y2="241.50" stroke="#2a2a2a" stroke-width="0.55"/><rect x="510.35" y="216.40" width="7.95" height="23.10" fill="#ffffff" stroke="#2a2a2a" stroke-width="0.55"/><line x1="510.35" y1="225.50" x2="518.30" y2="225.50" stroke="#111" stroke-width="1.0"/><path d="M514.33,210.00L515.78,212.55L512.88,212.55Z" fill="#000"/><path d="M514.33,218.30L515.78,220.85L512.88,220.85Z" fill="#000"/><rect x="516.30" y="240.40" width="2.20" height="2.20" fill="#000"/>
<line x1="525.50" y1="228.10" x2="525.50" y2="235.40" stroke="#2a2a2a" stroke-width="0.55"/><line x1="525.50" y1="315.10" x2="525.50" y2="329.00" stroke="#2a2a2a" stroke-width="0.55"/><rect x="521.50" y="235.40" width="8.00" height="79.70" fill="#bebebe" stroke="#2a2a2a" stroke-width="0.55"/><line x1="521.50" y1="279.50" x2="529.50" y2="279.50" stroke="#111" stroke-width="1.0"/><rect x="527.50" y="227.00" width="2.20" height="2.20" fill="#000"/><rect x="527.50" y="232.20" width="2.20" height="2.20" fill="#000"/><circle cx="522.40" cy="264.50" r="1.20" fill="#000"/><circle cx="522.40" cy="279.50" r="1.20" fill="#000"/><path d="M525.50,313.40L526.95,315.95L524.05,315.95Z" fill="#000"/><path d="M525.50,327.40L526.95,329.95L524.05,329.95Z" fill="#000"/>
<line x1="535.33" y1="235.00" x2="535.33" y2="239.10" stroke="#2a2a2a" stroke-width="0.55"/><line x1="535.33" y1="306.90" x2="535.33" y2="329.00" stroke="#2a2a2a" stroke-width="0.55"/><rect x="531.35" y="239.10" width="7.95" height="67.80" fill="#ffffff" stroke="#2a2a2a" stroke-width="0.55"/><line x1="531.35" y1="272.80" x2="539.30" y2="272.80" stroke="#111" stroke-width="1.0"/><rect x="537.30" y="233.90" width="2.20" height="2.20" fill="#000"/><rect x="537.30" y="236.30" width="2.20" height="2.20" fill="#000"/><circle cx="532.25" cy="266.60" r="1.20" fill="#000"/><circle cx="532.25" cy="275.40" r="1.20" fill="#000"/><path d="M535.33,305.40L536.78,307.95L533.88,307.95Z" fill="#000"/><path d="M535.33,314.40L536.78,316.95L533.88,316.95Z" fill="#000"/><path d="M535.33,327.40L536.78,329.95L533.88,329.95Z" fill="#000"/>
<line x1="546.50" y1="202.40" x2="546.50" y2="204.20" stroke="#2a2a2a" stroke-width="0.55"/><line x1="546.50" y1="225.50" x2="546.50" y2="227.10" stroke="#2a2a2a" stroke-width="0.55"/><rect x="542.50" y="204.20" width="8.00" height="21.30" fill="#bebebe" stroke="#2a2a2a" stroke-width="0.55"/><line x1="542.50" y1="225.20" x2="550.50" y2="225.20" stroke="#111" stroke-width="1.0"/><circle cx="543.40" cy="217.00" r="1.20" fill="#000"/><circle cx="543.40" cy="225.50" r="1.20" fill="#000"/><circle cx="543.40" cy="229.00" r="1.20" fill="#000"/><rect x="548.50" y="202.70" width="2.20" height="2.20" fill="#000"/><rect x="548.50" y="224.40" width="2.20" height="2.20" fill="#000"/><path d="M546.50,225.30L547.95,227.85L545.05,227.85Z" fill="#000"/>
<line x1="556.33" y1="197.20" x2="556.33" y2="200.70" stroke="#2a2a2a" stroke-width="0.55"/><line x1="556.33" y1="228.10" x2="556.33" y2="235.00" stroke="#2a2a2a" stroke-width="0.55"/><rect x="552.35" y="200.70" width="7.95" height="27.40" fill="#ffffff" stroke="#2a2a2a" stroke-width="0.55"/><line x1="552.35" y1="221.30" x2="560.30" y2="221.30" stroke="#111" stroke-width="1.0"/><rect x="558.30" y="196.10" width="2.20" height="2.20" fill="#000"/><rect x="558.30" y="198.20" width="2.20" height="2.20" fill="#000"/><path d="M556.33,220.40L557.78,222.95L554.88,222.95Z" fill="#000"/><circle cx="553.25" cy="233.30" r="1.20" fill="#000"/><circle cx="553.25" cy="235.00" r="1.20" fill="#000"/>
<ellipse cx="45.75" cy="133.7" rx="0.95" ry="0.8" fill="#140800"/>
<ellipse cx="48.65" cy="133.7" rx="0.95" ry="0.8" fill="#140800"/>
<ellipse cx="171.80" cy="173.7" rx="0.95" ry="0.8" fill="#140800"/>
<ellipse cx="174.70" cy="173.7" rx="0.95" ry="0.8" fill="#140800"/>
<ellipse cx="193.20" cy="173.7" rx="0.95" ry="0.8" fill="#140800"/>
<ellipse cx="196.10" cy="173.7" rx="0.95" ry="0.8" fill="#140800"/>
<ellipse cx="318.80" cy="138.5" rx="0.95" ry="0.8" fill="#140800"/>
<ellipse cx="321.70" cy="138.5" rx="0.95" ry="0.8" fill="#140800"/>
<ellipse cx="338.40" cy="151.6" rx="0.95" ry="0.8" fill="#140800"/>
<ellipse cx="341.30" cy="151.6" rx="0.95" ry="0.8" fill="#140800"/>
<ellipse cx="344.20" cy="151.6" rx="0.95" ry="0.8" fill="#140800"/>
<ellipse cx="422.20" cy="217.5" rx="0.95" ry="0.8" fill="#140800"/>
<ellipse cx="425.10" cy="217.5" rx="0.95" ry="0.8" fill="#140800"/>
<ellipse cx="428.00" cy="217.5" rx="0.95" ry="0.8" fill="#140800"/>
<text x="571.1" y="206.8" font-size="4.8" font-weight="bold" fill="#000" stroke="#000" stroke-width="0.1">Individual</text>
<rect x="570.6" y="208.10" width="8.9" height="8.75" fill="#fff" stroke="#d4d4dc" stroke-width="0.45"/>
<circle cx="575.15" cy="212.80" r="1.08" fill="#000"/>
<text x="580.9" y="214.60" font-size="4.8" fill="#000" stroke="#000" stroke-width="0.06">A</text>
<rect x="570.6" y="216.85" width="8.9" height="8.75" fill="#fff" stroke="#d4d4dc" stroke-width="0.45"/>
<path d="M575.15,220.11L576.45,222.40L573.85,222.40Z" fill="#000"/>
<text x="580.9" y="223.35" font-size="4.8" fill="#000" stroke="#000" stroke-width="0.06">B</text>
<rect x="570.6" y="225.60" width="8.9" height="8.75" fill="#fff" stroke="#d4d4dc" stroke-width="0.45"/>
<rect x="574.16" y="229.31" width="1.98" height="1.98" fill="#000"/>
<text x="580.9" y="232.10" font-size="4.8" fill="#000" stroke="#000" stroke-width="0.06">C</text>
<text x="571.1" y="246.2" font-size="4.8" font-weight="bold" fill="#000" stroke="#000" stroke-width="0.1">Method</text>
<rect x="571.3" y="248.40" width="8.1" height="8.4" fill="#fff" stroke="#d6d6d6" stroke-width="0.4"/>
<line x1="575.35" y1="248.90" x2="575.35" y2="256.30" stroke="#2a2a2a" stroke-width="0.5"/>
<rect x="572.0" y="250.30" width="6.7" height="4.4" fill="#e4e4e4" stroke="#2a2a2a" stroke-width="0.55"/>
<line x1="572.0" y1="251.60" x2="578.7" y2="251.60" stroke="#555" stroke-width="0.45"/>
<line x1="572.0" y1="253.50" x2="578.7" y2="253.50" stroke="#555" stroke-width="0.45"/>
<circle cx="575.35" cy="252.50" r="0.96" fill="#000"/>
<text x="581.1" y="254.70" font-size="4.8" fill="#000" stroke="#000" stroke-width="0.06">HMP</text>
<rect x="571.3" y="257.00" width="8.1" height="8.4" fill="#fff" stroke="#d6d6d6" stroke-width="0.4"/>
<line x1="575.35" y1="257.50" x2="575.35" y2="264.90" stroke="#2a2a2a" stroke-width="0.5"/>
<rect x="572.0" y="258.90" width="6.7" height="4.4" fill="#ffffff" stroke="#2a2a2a" stroke-width="0.55"/>
<line x1="572.0" y1="260.20" x2="578.7" y2="260.20" stroke="#555" stroke-width="0.45"/>
<line x1="572.0" y1="262.10" x2="578.7" y2="262.10" stroke="#555" stroke-width="0.45"/>
<path d="M575.35,259.82L576.51,261.86L574.19,261.86Z" fill="#000"/>
<text x="581.1" y="263.30" font-size="4.8" fill="#000" stroke="#000" stroke-width="0.06">MetaHit</text>
</g>
</svg>
</body></html>
